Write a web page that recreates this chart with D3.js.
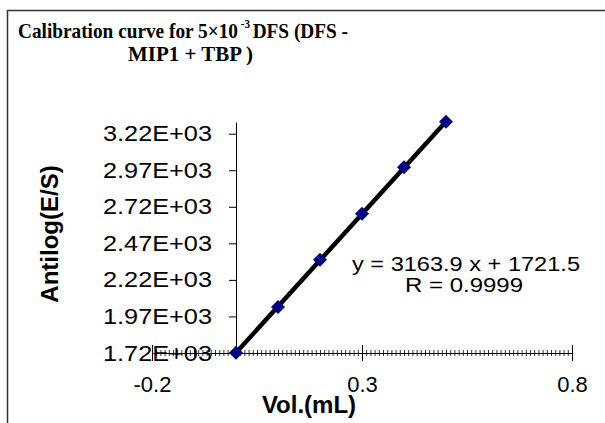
<!DOCTYPE html>
<html>
<head>
<meta charset="utf-8">
<script src="https://cdn.jsdelivr.net/npm/d3@7"></script>
<style>
html,body{margin:0;padding:0;background:#fff;}
svg{display:block;}
</style>
</head>
<body>
<svg id="chart" width="605" height="423"></svg>
<script>
// ---- data ----
const volumes = [0, 0.1, 0.2, 0.3, 0.4, 0.5];
const antilogValues = [1722, 2035, 2358, 2672, 2990, 3302];
const yTickValues = [1720, 1970, 2220, 2470, 2720, 2970, 3220];
const yTickLabels = ["1.72E+03", "1.97E+03", "2.22E+03", "2.47E+03", "2.72E+03", "2.97E+03", "3.22E+03"];
const xTickValues = [-0.2, 0.3, 0.8];
const xTickLabels = ["-0.2", "0.3", "0.8"];
const slope = 3163.9, intercept = 1721.5;
const equationLines = ["y = 3163.9 x + 1721.5", "R = 0.9999"];

const svg = d3.select("#chart");

// chart border
svg.append("rect").attr("x", 7.5).attr("y", 10.5).attr("width", 620).attr("height", 430)
  .attr("fill", "none").attr("stroke", "#333").attr("stroke-width", 1.5);

// title
const serif = "Liberation Serif, Times New Roman, serif";
const t1 = svg.append("text").attr("x", 18).attr("y", 38)
  .attr("font-family", serif).attr("font-weight", "bold")
  .attr("font-size", 21).attr("fill", "#000")
  .attr("textLength", 330).attr("lengthAdjust", "spacingAndGlyphs");
t1.append("tspan").text("Calibration curve for 5×10");
t1.append("tspan").attr("font-size", 12).attr("dx", 3).attr("dy", -10).text("-3");
t1.append("tspan").attr("dx", 3).attr("dy", 10).text("DFS (DFS -");
svg.append("text").attr("x", 128).attr("y", 61)
  .attr("font-family", serif).attr("font-weight", "bold")
  .attr("font-size", 21).attr("fill", "#000")
  .attr("textLength", 125).attr("lengthAdjust", "spacingAndGlyphs").text("MIP1 + TBP )");

// scales
const x = d3.scaleLinear().domain([-0.2, 0.8]).range([152, 572]);
const y = d3.scaleLinear().domain([1720, 3300]).range([353, 122]);

const font = "Liberation Sans, Arial, sans-serif";

// y axis at x = 0
const yAxis = d3.axisLeft(y).tickValues(yTickValues).tickSizeInner(7).tickSizeOuter(0).tickPadding(17)
  .tickFormat((d, i) => yTickLabels[i]);
const gy = svg.append("g").attr("transform", `translate(${x(0)},0)`).call(yAxis);
gy.select(".domain").attr("stroke", "#000").attr("stroke-width", 1);
gy.selectAll(".tick line").attr("stroke", "#000");
gy.selectAll(".tick text").attr("font-family", font).attr("font-size", 22).attr("fill", "#000")
  .attr("textLength", 109).attr("lengthAdjust", "spacingAndGlyphs");

// x axis minor ticks
const minorTicks = d3.range(-20, 81).map(i => i / 100);
const xMinor = d3.axisBottom(x).tickValues(minorTicks).tickSizeInner(3).tickSizeOuter(0).tickFormat("");
const gxm = svg.append("g").attr("transform", `translate(0,${y(1720)})`).call(xMinor);
gxm.selectAll(".tick line").attr("y1", -3).attr("y2", 3).attr("stroke", "#000").attr("stroke-width", 0.8);
gxm.select(".domain").attr("stroke", "#000").attr("stroke-width", 1);

// x axis major ticks
const xAxis = d3.axisBottom(x).tickValues(xTickValues).tickSizeInner(7).tickSizeOuter(0).tickPadding(16)
  .tickFormat((d, i) => xTickLabels[i]);
const gx = svg.append("g").attr("transform", `translate(0,${y(1720)})`).call(xAxis);
gx.select(".domain").remove();
gx.selectAll(".tick line").attr("y1", -8).attr("y2", 8).attr("stroke", "#000");
gx.selectAll(".tick text").attr("font-family", font).attr("font-size", 22).attr("fill", "#000");

// trendline
const xs = d3.extent(volumes);
svg.append("line")
  .attr("x1", x(xs[0])).attr("y1", y(slope * xs[0] + intercept))
  .attr("x2", x(xs[1])).attr("y2", y(slope * xs[1] + intercept))
  .attr("stroke", "#000").attr("stroke-width", 4.5);

// markers
const diamond = d3.symbol().type(d3.symbolDiamond2).size(125);
svg.append("g").selectAll("path").data(volumes).join("path")
  .attr("d", diamond)
  .attr("transform", (d, i) => `translate(${x(d)},${y(antilogValues[i])})`)
  .attr("fill", "#000080");

// equation
svg.append("text").attr("x", 466).attr("y", 271).attr("text-anchor", "middle")
  .attr("font-family", font).attr("font-size", 20).attr("fill", "#000")
  .attr("textLength", 228).attr("lengthAdjust", "spacingAndGlyphs").text(equationLines[0]);
svg.append("text").attr("x", 464).attr("y", 292).attr("text-anchor", "middle")
  .attr("font-family", font).attr("font-size", 20).attr("fill", "#000")
  .attr("textLength", 118).attr("lengthAdjust", "spacingAndGlyphs").text(equationLines[1]);

// axis titles
svg.append("text").attr("x", 309).attr("y", 413).attr("text-anchor", "middle")
  .attr("font-family", font).attr("font-weight", "bold").attr("font-size", 24).attr("fill", "#000")
  .text("Vol.(mL)");
svg.append("text").attr("transform", "translate(58,234) rotate(-90)").attr("text-anchor", "middle")
  .attr("font-family", font).attr("font-weight", "bold").attr("font-size", 24).attr("fill", "#000")
  .text("Antilog(E/S)");
</script>
</body>
</html>
